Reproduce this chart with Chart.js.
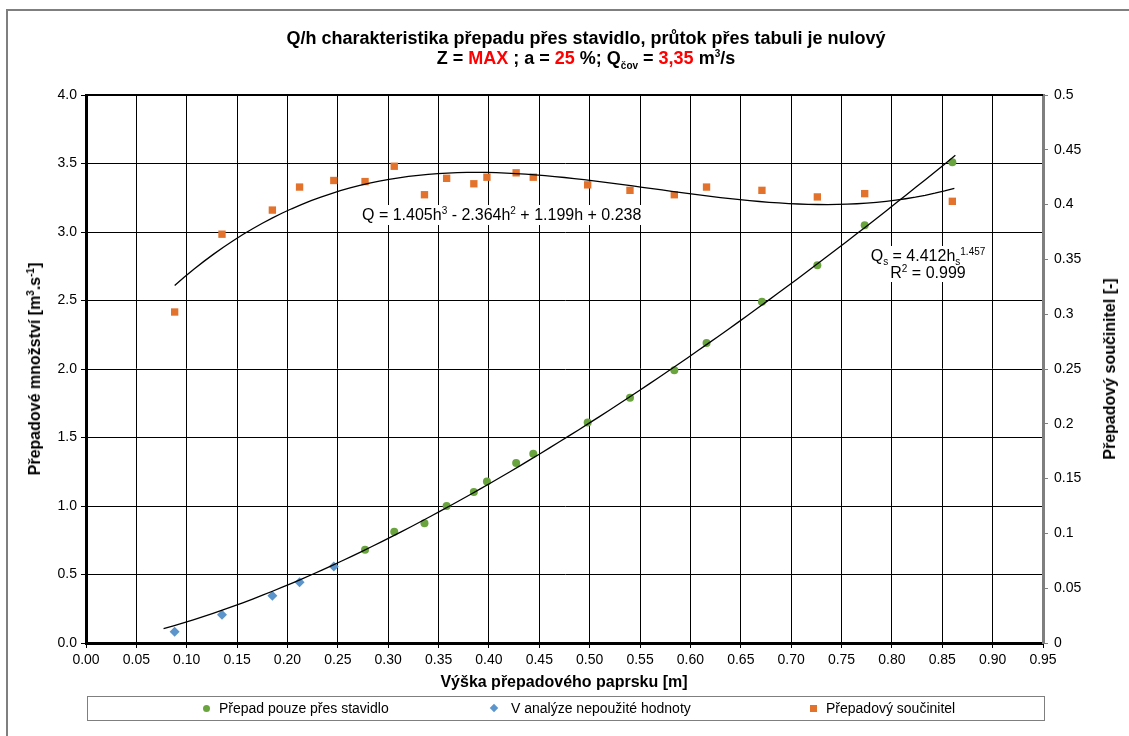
<!DOCTYPE html>
<html>
<head>
<meta charset="utf-8">
<script src="https://cdn.jsdelivr.net/npm/chart.js@4.4.1/dist/chart.umd.min.js"></script>
<style>
  html, body { margin: 0; padding: 0; background: #fff; }
  #wrap { position: relative; width: 1129px; height: 736px; overflow: hidden;
          font-family: "Liberation Sans", Arial, sans-serif; color: #000; }
  #frame { position: absolute; left: 6px; top: 9px; width: 1200px; height: 800px;
           border: 2px solid #7f7f7f; box-sizing: border-box; }
  canvas { position: absolute; left: 0; top: 0; }
  .t { position: absolute; white-space: nowrap; }
  .title { left: 586px; transform: translateX(-50%); text-align: center; font-weight: bold; font-size: 18px; }
  .red { color: #ff0000; }
  .axt { font-weight: bold; font-size: 16px; }
  .rot { transform: translate(-50%, -50%) rotate(-90deg); }
  .eq { font-size: 16px; background: #fff; padding: 1px 2px; }
  sup, sub { font-size: 10px; line-height: 0; }
  #legend { position: absolute; left: 87px; top: 696px; width: 958px; height: 25px;
            border: 1px solid #7f7f7f; box-sizing: border-box; font-size: 14px; }
  .li { position: absolute; top: 3px; }
  .mk { position: absolute; }
</style>
</head>
<body>
<div id="wrap">
  <div id="frame"></div>
  <canvas id="chart" width="1129" height="736"></canvas>

  <div class="t title" style="top:28px">Q/h charakteristika přepadu přes stavidlo, průtok přes tabuli je nulový</div>
  <div class="t title" style="top:48px">Z = <span class="red">MAX</span> ; a = <span class="red">25</span> %; Q<sub>čov</sub> = <span class="red">3,35</span> m<sup>3</sup>/s</div>

  <div class="t axt rot" style="left:35px; top:369px">Přepadové množství [m<sup>3</sup>.s<sup>-1</sup>]</div>
  <div class="t axt rot" style="left:1110px; top:369px">Přepadový součinitel [-]</div>
  <div class="t axt" style="left:564px; top:682px; transform:translate(-50%,-50%)">Výška přepadového paprsku [m]</div>

  <div class="t eq" style="left:360px; top:205px">Q = 1.405h<sup>3</sup> - 2.364h<sup>2</sup> + 1.199h + 0.238</div>
  <div class="t eq" style="left:928px; top:246px; transform:translateX(-50%); text-align:center; line-height:17px">
    Q<sub>s</sub> = 4.412h<sub>s</sub><sup>1.457</sup><br>R<sup>2</sup> = 0.999
  </div>

  <div id="legend"></div>
</div>

<script>
// h [m] measured heights
const hUnused = [0.088, 0.135, 0.185, 0.212, 0.246];
const qUnused = [0.083, 0.207, 0.344, 0.444, 0.558];

const hGate = [0.277, 0.306, 0.336, 0.358, 0.385, 0.398, 0.427, 0.444, 0.498, 0.540,
               0.584, 0.616, 0.671, 0.726, 0.773, 0.860];
const qGate = [0.680, 0.812, 0.875, 1.000, 1.103, 1.179, 1.313, 1.381, 1.610, 1.790,
               1.990, 2.190, 2.490, 2.757, 3.050, 3.510];

const hCoef = [0.088, 0.135, 0.185, 0.212, 0.246, 0.277, 0.306, 0.336, 0.358, 0.385,
               0.398, 0.427, 0.444, 0.498, 0.540, 0.584, 0.616, 0.671, 0.726, 0.773, 0.860];
const mu    = [0.302, 0.373, 0.395, 0.416, 0.422, 0.421, 0.435, 0.409, 0.424, 0.419,
               0.425, 0.429, 0.425, 0.418, 0.413, 0.409, 0.416, 0.413, 0.407, 0.410, 0.403];

// trendline equations as printed in the chart
const polyCoef = [1.405, -2.364, 1.199, 0.238];   // h^3, h^2, h, 1
const polyRange = [0.088, 0.862];
const powCoef = [4.412, 1.457];                   // a * h^b
const powRange = [0.077, 0.863];

const xTicks = { min: 0, max: 0.95, step: 0.05 };
const yTicks = { min: 0, max: 4.0, step: 0.5 };
const y1Ticks = { min: 0, max: 0.5, step: 0.05 };

const GREEN = '#6aa43e', BLUE = '#5b95cc', ORANGE = '#e3732c';

const curve = (range, fn) => {
  const pts = [];
  for (let i = 0; i <= 80; i++) {
    const h = range[0] + (range[1] - range[0]) * i / 80;
    pts.push({ x: h, y: fn(h) });
  }
  return pts;
};
const polyLine = curve(polyRange, h => ((polyCoef[0] * h + polyCoef[1]) * h + polyCoef[2]) * h + polyCoef[3]);
const powLine = curve(powRange, h => powCoef[0] * Math.pow(h, powCoef[1]));

const zip = (xs, ys) => xs.map((x, i) => ({ x, y: ys[i] }));

// top border of plot area
const frameTop = {
  id: 'frameTop',
  afterDraw(chart) {
    const { ctx, chartArea: a } = chart;
    ctx.save();
    ctx.strokeStyle = '#000';
    ctx.lineWidth = 2;
    ctx.beginPath();
    ctx.moveTo(a.left - 1, a.top);
    ctx.lineTo(a.right, a.top);
    ctx.stroke();
    ctx.restore();
  }
};

const tickFont = { family: '"Liberation Sans", Arial, sans-serif', size: 14 };

new Chart(document.getElementById('chart'), {
  type: 'scatter',
  data: {
    datasets: [
      { label: 'pow', data: powLine, yAxisID: 'y', showLine: true, pointRadius: 0,
        borderColor: '#000', borderWidth: 1.3, fill: false },
      { label: 'poly', data: polyLine, yAxisID: 'y1', showLine: true, pointRadius: 0,
        borderColor: '#000', borderWidth: 1.3, fill: false },
      { label: 'Přepad pouze přes stavidlo', data: zip(hGate, qGate), yAxisID: 'y',
        pointStyle: 'circle', pointRadius: 4, backgroundColor: GREEN, borderColor: GREEN, borderWidth: 0 },
      { label: 'V analýze nepoužité hodnoty', data: zip(hUnused, qUnused), yAxisID: 'y',
        pointStyle: 'rectRot', pointRadius: 5, backgroundColor: BLUE, borderColor: BLUE, borderWidth: 0 },
      { label: 'Přepadový součinitel', data: zip(hCoef, mu), yAxisID: 'y1',
        pointStyle: 'rect', pointRadius: 5.2, backgroundColor: ORANGE, borderColor: ORANGE, borderWidth: 0 }
    ]
  },
  options: {
    responsive: false, animation: false, devicePixelRatio: 1,
    layout: { padding: { top: 95 } },
    plugins: { legend: { display: false }, tooltip: { enabled: false } },
    scales: {
      x: {
        type: 'linear', min: xTicks.min, max: xTicks.max,
        ticks: { stepSize: xTicks.step, color: '#000', font: tickFont, padding: 4,
                 callback: v => v.toFixed(2) },
        grid: { color: '#000', lineWidth: 1, tickLength: 5, tickColor: '#000' },
        border: { color: '#000', width: 3 },
        afterFit: s => { s.height = 93; }
      },
      y: {
        position: 'left', min: yTicks.min, max: yTicks.max,
        ticks: { stepSize: yTicks.step, color: '#000', font: tickFont, padding: 4,
                 callback: v => v.toFixed(1) },
        grid: { color: '#000', lineWidth: 1, tickLength: 5, tickColor: '#000' },
        border: { color: '#000', width: 3 },
        afterFit: s => { s.width = 86; }
      },
      y1: {
        position: 'right', min: y1Ticks.min, max: y1Ticks.max,
        ticks: { stepSize: y1Ticks.step, color: '#000', font: tickFont, padding: 6,
                 callback: v => String(+v.toFixed(2)) },
        grid: { drawOnChartArea: false, tickLength: 5, tickColor: '#7f7f7f' },
        border: { color: '#7f7f7f', width: 3 },
        afterFit: s => { s.width = 86; }
      }
    }
  },
  plugins: [frameTop]
});

// custom legend
const legendItems = [
  { label: 'Přepad pouze přes stavidlo', color: GREEN, shape: 'circle', mx: 118, tx: 131 },
  { label: 'V analýze nepoužité hodnoty', color: BLUE, shape: 'diamond', mx: 406, tx: 423 },
  { label: 'Přepadový součinitel', color: ORANGE, shape: 'square', mx: 725, tx: 738 }
];
document.getElementById('legend').innerHTML = legendItems.map(it => {
  let mk = '';
  if (it.shape === 'circle')
    mk = `<div class="mk" style="left:${it.mx - 3}px;top:8px;width:7px;height:7px;border-radius:50%;background:${it.color}"></div>`;
  else if (it.shape === 'diamond')
    mk = `<div class="mk" style="left:${it.mx - 3}px;top:8px;width:6px;height:6px;transform:rotate(45deg);background:${it.color}"></div>`;
  else
    mk = `<div class="mk" style="left:${it.mx - 3}px;top:8px;width:7px;height:7px;background:${it.color}"></div>`;
  return mk + `<span class="li" style="left:${it.tx}px">${it.label}</span>`;
}).join('');
</script>
</body>
</html>
